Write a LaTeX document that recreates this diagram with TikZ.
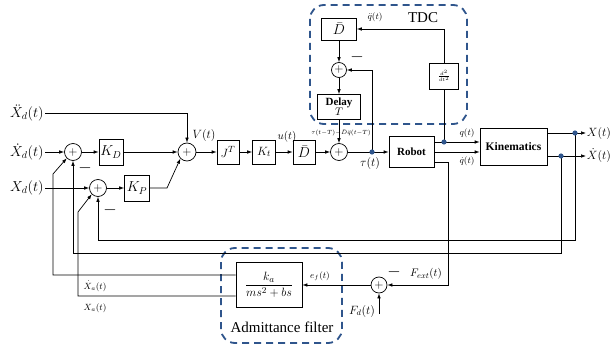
\documentclass[tikz,border=0pt]{standalone}
\usepackage{fontspec}
\usepackage{amsmath}
\setmainfont{Liberation Serif}
\usetikzlibrary{arrows.meta,calc}
\definecolor{dblue}{RGB}{47,85,140}
\begin{document}
\begin{tikzpicture}[x=1pt,y=-1pt,
 line width=0.7pt,
 >={Latex[length=5pt,width=3.6pt]},
 blk/.style={draw,inner sep=0pt},
 sumc/.style={circle,draw,inner sep=0pt,minimum size=17pt,font=\fontsize{13}{13}\selectfont},
 lbl/.style={inner sep=1pt,font=\fontsize{14}{16}\selectfont},
 mid/.style={inner sep=0pt,font=\fontsize{11}{12}\selectfont},
 sml/.style={inner sep=0pt,font=\fontsize{9}{10}\selectfont},
 minus/.style={inner sep=0pt,font=\fontsize{16}{16}\selectfont},
 dbox/.style={draw=dblue,line width=1.8pt,dash pattern=on 7pt off 5pt,rounded corners=14pt},
]
\useasboundingbox (0,0) rectangle (613,350);

% dashed groups
\draw[dbox] (310,5) rectangle (467,124);
\draw[dbox] (221,248) rectangle (342,343);

% inputs
\node[lbl,anchor=east] (xdd) at (45,113) {$\ddot{X}_d(t)$};
\node[lbl,anchor=east] (xd1) at (45,152) {$\dot{X}_d(t)$};
\node[lbl,anchor=east] (xd0) at (45,188) {$X_d(t)$};

% main path
\node[sumc] (s1) at (73,152) {$+$};
\node[sumc] (s2) at (98,188) {$+$};
\node[blk,minimum width=24pt,minimum height=26pt,font=\fontsize{14}{14}\selectfont] (kd) at (111,152) {$K_D$};
\node[blk,minimum width=25pt,minimum height=26pt,font=\fontsize{14}{14}\selectfont] (kp) at (137,188) {$K_P$};
\node[sumc,minimum size=18pt] (sv) at (187,152) {$+$};
\node[blk,minimum width=22pt,minimum height=24pt,font=\fontsize{13}{13}\selectfont] (jt) at (228,152) {$J^T$};
\node[blk,minimum width=23pt,minimum height=24pt,font=\fontsize{13}{13}\selectfont] (kt) at (264,152) {$K_t$};
\node[blk,minimum width=22pt,minimum height=24pt,font=\fontsize{14}{14}\selectfont] (db) at (304,152) {$\bar{D}$};
\node[sumc] (s3) at (339,152) {$+$};
\coordinate (td) at (372,152);
\node[blk,minimum width=45pt,minimum height=31pt,font=\fontsize{11}{12}\selectfont\bfseries] (robot) at (411.5,152) {Robot};
\coordinate (qd) at (444,142);
\node[blk,minimum width=67pt,minimum height=37pt,font=\fontsize{11.5}{12}\selectfont\bfseries] (kin) at (513.5,146.5) {Kinematics};
\coordinate (xo) at (575,133);
\coordinate (xdo) at (561,156);
\node[inner sep=0.5pt,anchor=west,font=\fontsize{12.5}{14}\selectfont] (xout) at (586,133) {$X(t)$};
\node[inner sep=0.5pt,anchor=west,font=\fontsize{12.5}{14}\selectfont] (xdout) at (586,156) {$\dot{X}(t)$};

% TDC
\node[blk,minimum width=35pt,minimum height=22pt,font=\fontsize{14}{14}\selectfont] (db2) at (339,29) {$\bar{D}$};
\node[sumc,minimum size=15pt] (sT) at (339,70) {$+$};
\node[blk,minimum width=43pt,minimum height=25pt,align=center,font=\fontsize{11}{11}\selectfont] (delay) at (339,107) {\textbf{Delay}\\[-1pt]$T$};
\node[blk,minimum width=29pt,minimum height=26pt,font=\fontsize{7}{8}\selectfont] (ddt) at (444,76) {$\frac{d^2}{dt^2}$};

% admittance
\node[blk,minimum width=66pt,minimum height=45pt,font=\fontsize{13}{14}\selectfont] (adm) at (269,285) {$\dfrac{k_a}{ms^2+bs}$};
\node[sumc,minimum size=16pt] (sF) at (379,285) {$+$};
\coordinate (fd) at (379,314);

% connectors
\draw[->] (xdd.east) -- (xdd.east -| sv) -- (sv.north);
\draw[->] (xd1) -- (s1);
\draw[->] (xd0) -- (s2);
\draw[->] (s1) -- (kd);
\draw[->] (s2) -- (kp);
\draw[->] (kd) -- (sv);
\draw[->] (kp.east) -- (167,188) -- (sv.south west);
\draw[->] (sv) -- (jt);
\draw[->] (jt) -- (kt);
\draw[->] (kt) -- (db);
\draw[->] (db) -- (s3);
\draw[->] (s3) -- (robot);
\draw[->] (robot.east |- qd) -- (kin.west |- qd);
\draw[->] (robot.east |- 0,152) -- (kin.west |- 0,152);
\draw[->] (robot.east |- 0,162) -- (448,162) -- (448,285) -- (sF.east);
\draw[->] (kin.east |- xo) -- (xout.west);
\draw[->] (kin.east |- xdo) -- (xdout.west);
\draw[->] (xo) -- (575,240) -| (s2.south);
\draw[->] (xdo) -- (561,253) -| (s1.south);
\draw (qd) -- (ddt.south);
\draw[->] (ddt.north) -- (ddt.north |- db2.east) -- (db2.east);
\draw[->] (db2) -- (sT);
\draw[->] (td) -- (td |- sT.east) -- (sT.east);
\draw[->] (sT) -- (delay);
\draw[->] (delay) -- (s3);
\draw[->] (sF.west) -- (adm.east |- sF);
\draw[->] (fd) -- (sF.south);
\draw[->] (adm.west |- 0,275) -- (53,275) -- (53,174) -- (s1.south west);
\draw[->] (adm.west |- 0,296) -- (78,296) -- (78,212) -- (s2.south west);

% junction dots
\foreach \p in {td,qd,xo,xdo} \fill[dblue] (\p) circle (2.6pt);

% labels
\node[mid,font=\fontsize{12}{12}\selectfont] at (204,136) {$V(t)$};
\node[mid] at (287,137) {$u(t)$};
\node[inner sep=0pt,font=\fontsize{6}{7}\selectfont] at (341,133) {$\tau(t{-}T){-}\bar{D}\ddot{q}(t{-}T)$};
\node[mid,font=\fontsize{12}{12}\selectfont] at (370,164) {$\tau(t)$};
\node[mid,font=\fontsize{9.5}{10}\selectfont] at (375,17) {$\ddot{q}(t)$};
\node[inner sep=0pt,font=\fontsize{15}{15}\selectfont] at (423,18) {TDC};
\node[sml] at (467,133) {$q(t)$};
\node[sml] at (467,161) {$\dot{q}(t)$};
\node[sml] at (95,286) {$\dot{X}_a(t)$};
\node[sml] at (95,308) {$X_a(t)$};
\node[sml] at (320,276) {$e_f(t)$};
\node[mid] at (426,274) {$F_{ext}(t)$};
\node[mid,font=\fontsize{12}{12}\selectfont] at (362,311) {$F_d(t)$};
\node[inner sep=0pt,font=\fontsize{15}{15}\selectfont] at (282,327) {Admittance filter};
\node[minus] at (85,168) {$-$};
\node[minus] at (110,210) {$-$};
\node[minus] at (357,57) {$-$};
\node[minus] at (394,272) {$-$};
\end{tikzpicture}
\end{document}
